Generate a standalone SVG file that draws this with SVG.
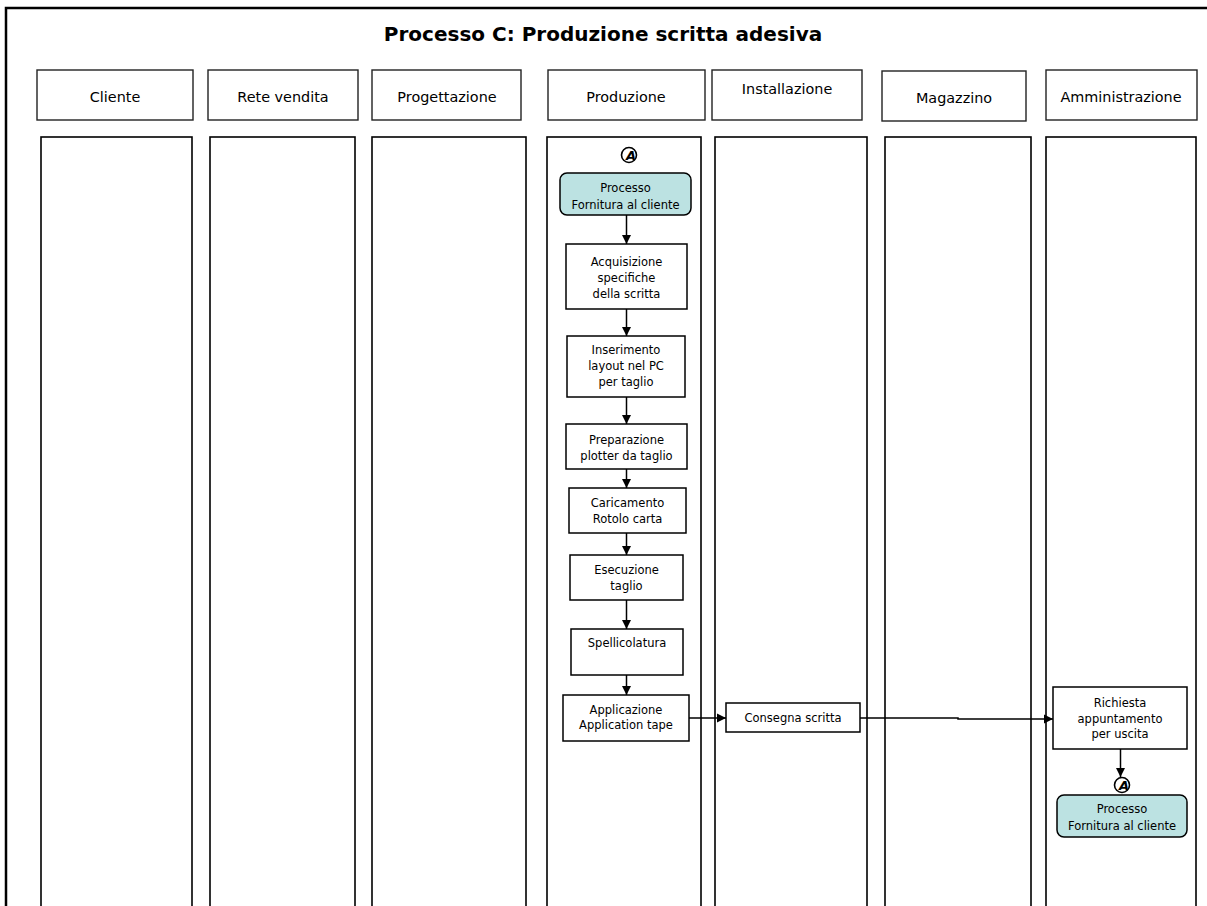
<svg xmlns="http://www.w3.org/2000/svg" width="1207" height="906" viewBox="0 0 1207 906">
<style>
.frame{fill:none;stroke:#000;stroke-width:2.5}
.lane{fill:none;stroke:#000;stroke-width:1.6}
.hdr{fill:#fff;stroke:#222;stroke-width:1.4}
.box{fill:#fff;stroke:#000;stroke-width:1.5}
.proc{fill:#BCE2E2;stroke:#000;stroke-width:1.5}
.circ{fill:#fff;stroke:#000;stroke-width:1.6}
.conn{fill:none;stroke:#000;stroke-width:1.5}
text{font-family:"DejaVu Sans","Liberation Sans",sans-serif;fill:#000;text-anchor:middle}
.title{font-size:20px;font-weight:bold}
.ht{font-size:14.4px}
.nt{font-size:11.5px}
.at{font-size:13px;font-weight:bold;font-style:italic}
</style>
<defs>
<marker id="ah" markerUnits="userSpaceOnUse" markerWidth="10" markerHeight="10" refX="9" refY="5" orient="auto">
<path d="M0,0.5 L9,5 L0,9.5 Z" fill="#000"/>
</marker>
</defs>
<rect width="1207" height="906" fill="#fff"/>
<g id="frame">
<path class="frame" d="M6,910 L6,8 L1210,8"/>
<text class="title" x="603" y="41">Processo C: Produzione scritta adesiva</text>
</g>
<g id="lanes">
<rect class="lane" x="41" y="137" width="151" height="780"/>
<rect class="lane" x="210" y="137" width="145" height="780"/>
<rect class="lane" x="372" y="137" width="154" height="780"/>
<rect class="lane" x="547" y="137" width="154" height="780"/>
<rect class="lane" x="715" y="137" width="152" height="780"/>
<rect class="lane" x="885" y="137" width="146" height="780"/>
<rect class="lane" x="1046" y="137" width="150" height="780"/>
</g>
<g id="h-cliente"><rect class="hdr" x="37" y="70" width="156" height="50"/><text class="ht" x="115" y="102">Cliente</text></g>
<g id="h-rete"><rect class="hdr" x="208" y="70" width="150" height="50"/><text class="ht" x="283" y="102">Rete vendita</text></g>
<g id="h-prog"><rect class="hdr" x="372" y="70" width="149" height="50"/><text class="ht" x="447" y="102">Progettazione</text></g>
<g id="h-prod"><rect class="hdr" x="548" y="70" width="157" height="50"/><text class="ht" x="626" y="102">Produzione</text></g>
<g id="h-inst"><rect class="hdr" x="712" y="70" width="150" height="50"/><text class="ht" x="787" y="94">Installazione</text></g>
<g id="h-mag"><rect class="hdr" x="882" y="71" width="144" height="50"/><text class="ht" x="954" y="103">Magazzino</text></g>
<g id="h-amm"><rect class="hdr" x="1046" y="70" width="151" height="50"/><text class="ht" x="1121" y="102">Amministrazione</text></g>

<g id="connectors">
<line class="conn" x1="626.5" y1="215" x2="626.5" y2="244" marker-end="url(#ah)"/>
<line class="conn" x1="626.5" y1="309" x2="626.5" y2="336" marker-end="url(#ah)"/>
<line class="conn" x1="626.5" y1="397" x2="626.5" y2="424" marker-end="url(#ah)"/>
<line class="conn" x1="626.5" y1="469" x2="626.5" y2="488" marker-end="url(#ah)"/>
<line class="conn" x1="626.5" y1="533" x2="626.5" y2="555" marker-end="url(#ah)"/>
<line class="conn" x1="626.5" y1="600" x2="626.5" y2="629" marker-end="url(#ah)"/>
<line class="conn" x1="626.5" y1="675" x2="626.5" y2="695" marker-end="url(#ah)"/>
<line class="conn" x1="689" y1="718" x2="726" y2="718" marker-end="url(#ah)"/>
<polyline class="conn" points="860,718 958,718 958,719 1053,719" marker-end="url(#ah)"/>
<line class="conn" x1="1120.5" y1="749" x2="1120.5" y2="777" marker-end="url(#ah)"/>
</g>

<g id="conn-a1"><circle class="circ" cx="629" cy="155" r="7.5"/><text class="at" x="631" y="160">A</text></g>
<g id="proc1"><rect class="proc" x="560" y="173" width="131" height="42" rx="7"/><text class="nt" x="625.5" y="192">Processo</text><text class="nt" x="625.5" y="209">Fornitura al cliente</text></g>
<g id="acquisizione"><rect class="box" x="566" y="244" width="121" height="65"/><text class="nt" x="626.5" y="266">Acquisizione</text><text class="nt" x="626.5" y="282">specifiche</text><text class="nt" x="626.5" y="298">della scritta</text></g>
<g id="inserimento"><rect class="box" x="567" y="336" width="118" height="61"/><text class="nt" x="626" y="354">Inserimento</text><text class="nt" x="626" y="370">layout nel PC</text><text class="nt" x="626" y="386">per taglio</text></g>
<g id="preparazione"><rect class="box" x="566" y="424" width="121" height="45"/><text class="nt" x="626.5" y="444">Preparazione</text><text class="nt" x="626.5" y="460">plotter da taglio</text></g>
<g id="caricamento"><rect class="box" x="569" y="488" width="117" height="45"/><text class="nt" x="627.5" y="507">Caricamento</text><text class="nt" x="627.5" y="523">Rotolo carta</text></g>
<g id="esecuzione"><rect class="box" x="570" y="555" width="113" height="45"/><text class="nt" x="626.5" y="574">Esecuzione</text><text class="nt" x="626.5" y="590">taglio</text></g>
<g id="spellicolatura"><rect class="box" x="571" y="629" width="112" height="46"/><text class="nt" x="627" y="647">Spellicolatura</text></g>
<g id="applicazione"><rect class="box" x="563" y="695" width="126" height="46"/><text class="nt" x="626" y="714">Applicazione</text><text class="nt" x="626" y="729">Application tape</text></g>
<g id="consegna"><rect class="box" x="726" y="703" width="134" height="29"/><text class="nt" x="793" y="722">Consegna scritta</text></g>
<g id="richiesta"><rect class="box" x="1053" y="687" width="134" height="62"/><text class="nt" x="1120" y="707">Richiesta</text><text class="nt" x="1120" y="723">appuntamento</text><text class="nt" x="1120" y="738">per uscita</text></g>
<g id="conn-a2"><circle class="circ" cx="1122" cy="785" r="7.5"/><text class="at" x="1124" y="790">A</text></g>
<g id="proc2"><rect class="proc" x="1057" y="795" width="130" height="42" rx="7"/><text class="nt" x="1122" y="813">Processo</text><text class="nt" x="1122" y="830">Fornitura al cliente</text></g>
</svg>
